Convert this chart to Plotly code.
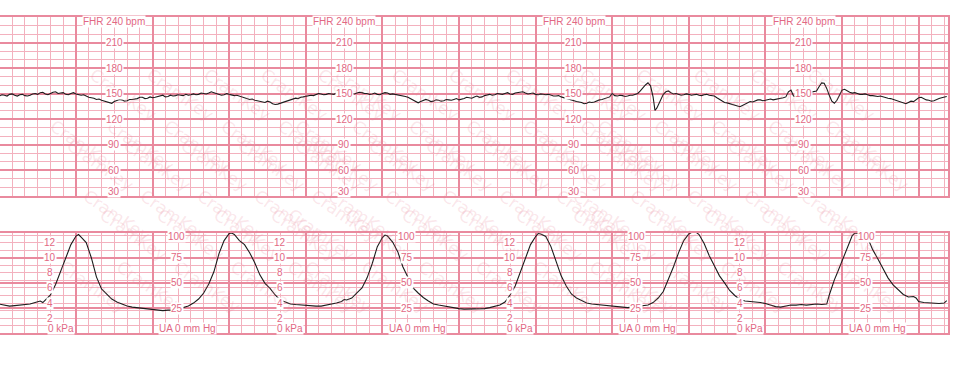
import plotly.graph_objects as go
import math

# ---------------- data ----------------
# FHR trace: (time in s, beats per minute)
fhr_points = [
    (0, 147), (2, 148.5), (4, 148), (6, 147), (8, 149), (10, 149.5), (12, 148), (14, 147), (16, 148.5), (18, 149),
    (20, 147.5), (22, 147), (24, 148), (26, 149.5), (28, 150), (30, 149), (32, 151), (34, 151.5), (36, 149.5), (38, 148.5),
    (40, 150), (42, 151.5), (44, 152), (46, 150), (48, 150.5), (50, 151), (52, 149), (54, 148.5), (56, 150), (58, 151),
    (60, 149.5), (62, 148.5), (64, 148), (66, 148.5), (68, 147), (70, 145.5), (72, 145), (74, 144.5), (76, 143), (78, 143.5),
    (80, 142), (82, 141), (84, 140), (86, 139), (88, 138.5), (90, 140.5), (92, 141.5), (94, 143), (96, 142.5), (98, 141),
    (100, 141.5), (102, 143), (104, 143), (106, 143.5), (108, 144), (110, 145.5), (112, 145.5), (114, 144), (116, 144.5), (118, 146),
    (120, 145), (122, 145.5), (124, 146.5), (126, 147.5), (128, 148), (130, 146), (132, 146.5), (134, 148), (136, 147), (138, 147.5),
    (140, 148.5), (142, 148), (144, 147.5), (146, 149), (148, 148), (150, 148.5), (152, 149.5), (154, 148.5), (156, 149), (158, 150.5),
    (160, 150), (162, 149.5), (164, 150.5), (166, 152), (168, 151), (170, 150), (172, 149.5), (174, 148), (176, 148.5), (178, 150),
    (180, 149), (182, 148), (184, 147.5), (186, 148), (188, 147), (190, 146), (192, 145), (194, 144.5), (196, 143), (198, 143.5),
    (200, 142), (202, 141.5), (204, 141), (206, 140), (208, 139.5), (210, 141), (212, 140), (214, 138), (216, 137), (218, 137.5),
    (220, 138.5), (222, 140), (224, 141), (226, 141.5), (228, 142.5), (230, 144), (232, 144.5), (234, 144), (236, 145.5), (238, 146),
    (240, 146.5), (242, 147.5), (244, 148), (246, 147.5), (248, 148.5), (250, 150), (252, 149.5), (254, 148.5), (256, 149), (258, 150),
    (260, 149.5), (262, 149), (264, 150.5), (266, 151), (268, 149), (270, 149.5), (272, 150), (274, 151), (276, 150), (278, 149.5),
    (280, 150.5), (282, 151.5), (284, 151), (286, 150), (288, 150), (290, 149), (292, 149.5), (294, 150.5), (296, 149), (298, 148.5),
    (300, 150), (302, 151), (304, 150.5), (306, 149), (308, 149.5), (310, 149), (312, 148.5), (314, 148), (316, 147.5), (318, 146.5),
    (320, 145.5), (322, 144), (324, 142), (326, 140), (328, 139), (330, 140.5), (332, 141.5), (334, 143), (336, 142), (338, 140.5),
    (340, 141), (342, 142.5), (344, 142), (346, 141), (348, 141.5), (350, 143), (352, 142.5), (354, 142), (356, 143), (358, 144),
    (360, 142.5), (362, 143), (364, 144), (366, 145.5), (368, 145), (370, 144.5), (372, 146), (374, 147), (376, 145.5), (378, 146),
    (380, 147.5), (382, 148.5), (384, 149), (386, 148), (388, 148.5), (390, 150), (392, 149.5), (394, 149), (396, 150), (398, 151),
    (400, 149.5), (402, 149), (404, 150.5), (406, 151), (408, 151.5), (410, 152), (412, 150.5), (414, 149.5), (416, 150), (418, 150.5),
    (420, 149), (422, 148.5), (424, 149.5), (426, 149), (428, 148.5), (430, 149), (432, 148), (434, 147), (436, 147), (438, 147.5),
    (440, 146), (442, 145), (444, 144), (446, 143.5), (448, 142.5), (450, 141), (452, 140.5), (454, 140), (456, 139.5), (458, 138),
    (460, 138.5), (462, 140), (464, 139.5), (466, 140), (468, 141.5), (470, 142.5), (472, 143), (474, 144), (476, 144.5), (478, 146),
    (480, 150), (482, 147.5), (484, 147), (486, 148), (488, 147.5), (490, 146.5), (492, 147), (494, 148), (496, 148), (498, 149),
    (500, 150), (502, 153), (504, 157), (506, 160), (508, 162.5), (510, 159), (512, 146), (513.5, 130), (515, 133), (517, 140),
    (520, 149), (522, 152), (524, 153), (526, 151), (528, 149.5), (530, 150), (532, 149), (534, 148), (536, 148.5), (538, 149.5),
    (540, 149), (542, 148), (544, 148.5), (546, 149), (548, 148), (550, 147.5), (552, 148.5), (554, 149), (556, 148), (558, 147.5),
    (560, 147), (562, 145), (564, 143), (566, 141), (568, 139.5), (570, 139), (572, 138), (574, 137), (576, 136), (578, 135.5),
    (580, 134.5), (582, 136), (584, 137.5), (586, 139), (588, 140.5), (590, 140), (592, 141.5), (594, 142.5), (596, 142.5), (598, 141.5),
    (600, 142), (602, 143), (604, 143.5), (606, 142.5), (608, 143), (610, 144), (612, 144.5), (614, 145), (616, 146), (618, 152),
    (620, 154), (622, 147), (624, 146.5), (626, 148), (628, 149.5), (630, 150), (632, 152), (634, 151), (636, 151.5), (638, 152.5),
    (640, 153), (642, 158), (644, 162.5), (646, 162), (648, 156), (650, 148), (652, 141), (654, 138.5), (656, 142), (658, 148),
    (660, 154), (662, 155), (664, 153), (666, 151.5), (668, 150.5), (670, 151), (672, 150), (674, 149), (676, 149), (678, 149.5),
    (680, 148.5), (682, 147.5), (684, 147.5), (686, 147), (688, 146.5), (690, 147), (692, 146), (694, 145), (696, 144.5), (698, 144),
    (700, 143), (702, 142), (704, 141), (706, 139.5), (708, 138.5), (710, 138), (712, 139.5), (714, 141), (716, 140.5), (718, 143),
    (720, 145), (722, 145.5), (724, 144), (726, 142.5), (728, 142), (730, 141), (732, 141.5), (734, 143), (736, 144), (738, 145),
    (740, 146), (742, 146.5),
]

# Uterine activity trace: (time in s, mmHg)
ua_points = [
    (0, 29), (4, 28), (8, 27), (12, 27.5), (16, 28), (20, 28.5), (24, 29), (28, 30.5), (32, 32), (34, 30.5),
    (36, 33), (40, 38), (44, 48.5), (48, 62), (52, 76), (56, 88), (60, 96.5), (62, 98), (64, 95.5), (68, 90),
    (72, 75), (76, 56), (80, 44), (84, 38.5), (88, 34), (92, 31), (96, 29), (100, 27), (104, 26), (108, 25.5),
    (112, 25), (116, 24.5), (120, 24), (124, 23.5), (128, 22.5), (132, 23), (136, 23), (140, 24), (144, 25.5), (148, 27),
    (152, 30), (156, 34), (160, 40), (164, 49), (168, 61), (172, 79), (176, 92), (180, 99), (182, 99.5), (184, 98),
    (188, 92), (192, 88), (196, 80), (200, 70), (204, 58), (208, 49.5), (212, 44.5), (216, 38), (220, 33), (224, 31),
    (228, 29), (232, 28.5), (236, 28), (240, 28), (244, 27.5), (248, 27), (252, 27), (256, 28), (260, 28.5), (264, 30),
    (268, 31.5), (270, 33.5), (272, 33), (276, 35), (280, 40), (284, 45), (288, 55), (292, 69), (296, 86), (300, 95),
    (302, 97.5), (304, 96.5), (308, 90.5), (312, 81), (316, 66), (320, 55.5), (324, 45), (328, 40), (332, 35.5), (336, 32),
    (340, 29), (344, 28), (348, 27), (352, 26), (356, 25), (360, 24.5), (364, 24), (368, 24), (372, 24), (376, 24.5),
    (380, 24.5), (384, 25.5), (388, 26.5), (392, 28), (396, 31), (400, 38), (404, 47), (408, 60), (412, 75), (416, 88),
    (420, 96), (422, 99), (424, 98.5), (428, 96), (432, 86), (436, 72), (440, 57), (444, 47), (448, 39), (452, 35),
    (456, 32.5), (460, 30), (464, 29), (468, 28.5), (472, 28), (476, 27), (480, 26.5), (484, 26), (488, 26), (492, 25.5),
    (496, 26), (500, 26.5), (504, 27), (508, 28), (512, 30.5), (516, 35), (520, 41.5), (524, 53), (528, 66), (532, 80),
    (536, 92), (540, 98.5), (542, 100), (546, 100), (548, 98), (552, 89), (556, 77), (560, 67), (564, 57), (568, 50),
    (572, 42.5), (576, 37.5), (580, 33.5), (584, 32), (588, 31.5), (592, 31.5), (596, 30.5), (600, 29.5), (604, 28), (608, 26.5),
    (612, 26), (616, 27), (620, 28), (624, 28), (628, 28.5), (632, 28), (636, 28.5), (640, 29), (644, 28.5), (648, 29),
    (650, 38), (652, 46), (654, 53), (656, 59), (660, 72), (664, 86), (668, 97), (670, 99.5), (674, 99.5), (676, 99),
    (680, 95), (684, 83), (688, 74), (692, 65), (696, 55), (700, 48), (704, 43), (708, 38.5), (712, 36), (716, 36.5),
    (718, 35), (720, 31.5), (724, 30.5), (728, 30), (732, 30), (736, 29.5), (740, 30), (742, 32.5),
]

fhr_ticks = [210, 180, 150, 120, 90, 60]
kpa_ticks = [12, 10, 8, 6, 4, 2]
mmhg_ticks = [75, 50, 25]
fhr_label_t = [90, 270, 450, 630]
kpa_label_t = [40, 220, 400, 580]
mmhg_label_t = [139, 319, 499, 679]
KPA_TO_MMHG = 7.50062
watermark_text = "CramKey"

fhr_t = [p[0] for p in fhr_points]
fhr_bpm = [p[1] for p in fhr_points]
ua_t = [p[0] for p in ua_points]
ua_mmhg = [p[1] for p in ua_points]

# ---------------- style ----------------
W, H = 960, 365
T_RANGE = [0.47, 743.0]
MAJOR = "rgb(233,138,158)"
MINOR = "rgb(243,177,190)"
LABEL = "rgb(226,104,132)"
TRACE = "#1c1c1c"
LFONT = dict(family="Liberation Sans, Arial, sans-serif", size=10, color=LABEL)

top_dom = [1 - 195.5 / H, 1 - 17 / H]
bot_dom = [1 - 333.3 / H, 1 - 232.5 / H]
x_dom = [0, 948 / W]

fig = go.Figure()
fig.add_trace(go.Scatter(x=fhr_t, y=fhr_bpm, mode="lines", xaxis="x", yaxis="y",
                         line=dict(color=TRACE, width=1.1), hoverinfo="skip"))
fig.add_trace(go.Scatter(x=ua_t, y=ua_mmhg, mode="lines", xaxis="x2", yaxis="y2",
                         line=dict(color=TRACE, width=1.1), hoverinfo="skip"))

xcommon = dict(range=T_RANGE, domain=x_dom, showticklabels=False, ticks="", zeroline=False,
               showgrid=True, dtick=60, tick0=0, gridcolor=MAJOR, gridwidth=2,
               minor=dict(dtick=10, tick0=0, showgrid=True, gridcolor=MINOR, gridwidth=1, ticks=""),
               showline=True, mirror=True, linecolor=MAJOR, linewidth=2)

fig.update_layout(
    width=W, height=H, autosize=False,
    margin=dict(l=0, r=0, t=0, b=0, pad=0),
    paper_bgcolor="white", plot_bgcolor="white",
    showlegend=False,
    xaxis=dict(anchor="y", **xcommon),
    xaxis2=dict(anchor="y2", matches="x", **xcommon),
    yaxis=dict(domain=top_dom, range=[30, 240], anchor="x", showticklabels=False, ticks="",
               zeroline=False, showgrid=True, dtick=30, tick0=0, gridcolor=MAJOR, gridwidth=2,
               minor=dict(dtick=10, tick0=0, showgrid=True, gridcolor=MINOR, gridwidth=1, ticks=""),
               showline=True, mirror=True, linecolor=MAJOR, linewidth=2),
    yaxis2=dict(domain=bot_dom, range=[0, 100], anchor="x2", showticklabels=False, ticks="",
                zeroline=False, showgrid=True, dtick=25, tick0=0, gridcolor=MAJOR, gridwidth=2,
                minor=dict(dtick=KPA_TO_MMHG, tick0=0, showgrid=True, gridcolor=MINOR, gridwidth=1, ticks=""),
                showline=True, mirror=True, linecolor=MAJOR, linewidth=2),
)

ann = []
# watermark: regular diagonal lattice, only whole words inside the picture
theta = math.radians(35)
word_step = 90
ax, ay = word_step * math.cos(theta), word_step * math.sin(theta)
band_step = 57
for u in range(-12, 14):
    for v in range(-12, 26):
        px = 10 + u * ax + v * band_step
        py = 10 + u * ay
        if 42 < px < W - 42 and 28 < py < H - 28:
            ann.append(dict(text=watermark_text, x=px / W, y=1 - py / H, xref="paper", yref="paper",
                            showarrow=False, textangle=35,
                            font=dict(family="DejaVu Sans", size=17, color="rgba(232,130,150,0.2)")))

def lab(text, t, y, xr, yr, xanchor="center", yanchor="middle"):
    ann.append(dict(text=text, x=t, y=y, xref=xr, yref=yr, showarrow=False,
                    xanchor=xanchor, yanchor=yanchor, font=LFONT, bgcolor="white", borderpad=0))

for t in fhr_label_t:
    lab("FHR 240 bpm", t, 240 - 5.5, "x", "y")
    for v in fhr_ticks:
        lab(str(v), t, v, "x", "y")
    lab("30", t, 30 + 4.5, "x", "y")
for t in kpa_label_t:
    for v in kpa_ticks:
        lab(str(v), t, v * KPA_TO_MMHG, "x2", "y2")
    lab("0 kPa", t - 3.1, 4.3, "x2", "y2", xanchor="left")
for t in mmhg_label_t:
    lab("100", t, 100 - 4.2, "x2", "y2")
    for v in mmhg_ticks:
        lab(str(v), t, v, "x2", "y2")
    lab("UA 0 mm Hg", t - 14.6, 4.3, "x2", "y2", xanchor="left")

fig.update_layout(annotations=ann)
fig.write_html("out.html")
